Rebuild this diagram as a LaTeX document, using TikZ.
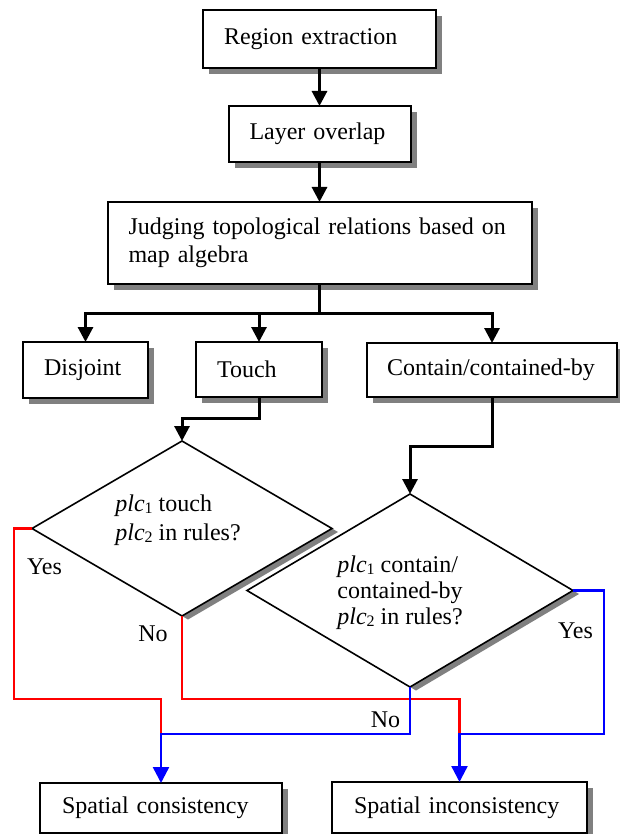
\documentclass[tikz,border=0pt]{standalone}
\usepackage{fontspec}
\setmainfont{Liberation Serif}
\usetikzlibrary{arrows.meta,shapes.geometric,shadows}
\newcommand{\plcsub}[1]{\textit{plc}\raisebox{-1.5pt}{\fontsize{16}{16}\selectfont #1}}
\begin{document}
\begin{tikzpicture}[x=1pt,y=1pt,
  font=\fontsize{24}{28}\selectfont,
  box/.style={draw, line width=2pt, fill=white, rectangle, align=left,
    inner xsep=21pt, inner ysep=0pt, outer sep=0pt,
    drop shadow={shadow xshift=6pt, shadow yshift=-6pt, fill=black!50, opacity=1}},
  dia/.style={draw, line width=1.6pt, diamond, fill=white, inner sep=0pt, outer sep=0pt,
    drop shadow={shadow xshift=6pt, shadow yshift=-3.5pt, fill=black!50, opacity=1}},
  arr/.style={line width=3pt, -{Triangle[width=15pt,length=15pt]}},
  rline/.style={line width=2.4pt, red},
  barr/.style={line width=2.4pt, blue, -{Triangle[width=16pt,length=16pt]}},
  lbl/.style={inner sep=0pt}
]
\useasboundingbox (0,0) rectangle (620,-834);
\fill[white] (0,0) rectangle (620,-834);

% boxes
\node[box, text width=191pt, minimum height=58pt] (b1) at (319.5,-39) {Region extraction};
\node[box, text width=140pt, minimum height=56pt] (b2) at (319.5,-134) {Layer overlap};
\node[box, text width=382pt, minimum height=82pt] (b3) at (319.5,-243) {Judging topological relations based on\\map algebra};
\node[box, text width=83pt, minimum height=56pt] (dis) at (85.5,-370) {Disjoint};
\node[box, text width=84pt, minimum height=55pt] (tou) at (259,-369.5) {Touch};
\node[box, text width=210pt, inner xsep=20pt, minimum height=54pt] (con) at (492,-370) {Contain/contained-by};
\node[box, text width=198pt, inner xsep=22pt, minimum height=50pt] (sc) at (161,-808) {Spatial consistency};
\node[box, text width=211pt, inner xsep=22pt, minimum height=51pt] (si) at (459.5,-807.5) {Spatial inconsistency};

% diamonds
\node[dia, minimum width=300pt, minimum height=175pt] (d1) at (182,-528.5) {};
\node[lbl, align=left, font=\fontsize{24}{29}\selectfont] (t1) at (178,-520.5) {\plcsub{1} touch\\\plcsub{2} in rules?};
\node[dia, minimum width=326pt, minimum height=193pt] (d2) at (410,-590.5) {};
\node[lbl, align=left, font=\fontsize{24}{26}\selectfont] (t2) at (400,-593) {\plcsub{1} contain/\\contained-by\\\plcsub{2} in rules?};

% black connectors
\draw[arr] (b1.south) -- (b2.north);
\draw[arr] (b2.south) -- (b3.north);
\coordinate (j) at (319.5,-313);
\draw[line width=3pt] (b3.south) -- (j);
\draw[arr] (j) -| (dis.north);
\draw[arr] (j) -| (tou.north);
\draw[arr] (j) -| (con.north);
\draw[arr] (tou.south) -- ++(0,-21) -| (d1.north);
\draw[arr] (con.south) -- ++(0,-49) -| (d2.north);

% decision connectors
\coordinate (c1) at (14,-699);
\coordinate (c2) at (161,-699);
\coordinate (m1) at (161,-734);
\coordinate (m2) at (459.5,-734);
\draw[rline] (d1.west) -| (c1) -- (c2) -- (m1);
\draw[rline] (d1.south) -- (d1.south |- c2) -| (m2);
\draw[barr] (d2.south) |- (m1) -- (sc.north);
\draw[barr] (d2.east) -- ++(31,0) |- (m2) -- (si.north);

% labels
\node[lbl] (yes1) at (44.5,-567) {Yes};
\node[lbl] (no1) at (153,-634) {No};
\node[lbl] (yes2) at (575.5,-631) {Yes};
\node[lbl] (no2) at (385.5,-720) {No};
\end{tikzpicture}
\end{document}
